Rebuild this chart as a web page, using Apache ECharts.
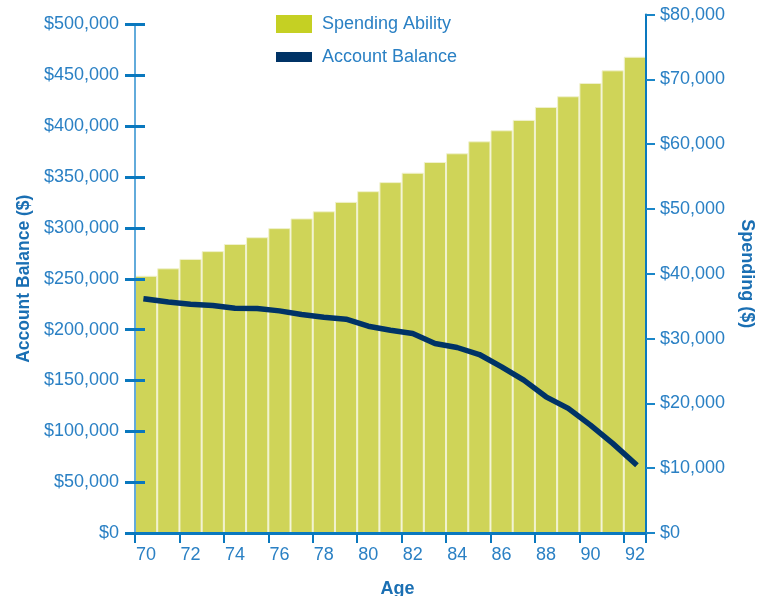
<!DOCTYPE html>
<html>
<head>
<meta charset="utf-8">
<script src="https://cdn.jsdelivr.net/npm/echarts@6/dist/echarts.min.js"></script>
<style>
  html, body { margin: 0; padding: 0; background: #fff; }
  #chart { width: 770px; height: 596px; }
</style>
</head>
<body>
<div id="chart"></div>
<script>
// 年龄（类目）
var ages = ['70','71','72','73','74','75','76','77','78','79','80','81','82','83','84','85','86','87','88','89','90','91','92'];
// 每年可支出金额（右轴）
var spending = [39700, 40850, 42300, 43500, 44600, 45650, 47050, 48550, 49650, 51100, 52750, 54150, 55600, 57250, 58600, 60450, 62150, 63750, 65750, 67400, 69450, 71400, 73500];
// 账户余额（左轴）
var balance = [230000, 227200, 224900, 223700, 221000, 220700, 218400, 214800, 212200, 210200, 203300, 199400, 196200, 186300, 182400, 175500, 163400, 150300, 133900, 122500, 106100, 88100, 68500];

var blueText = '#2a80c4';
var blueDark = '#0a78be';
var fontName = 'Liberation Sans';

function money(v) {
    return '$' + Number(v).toLocaleString('en-US');
}

var chart = echarts.init(document.getElementById('chart'));

var option = {
    animation: false,
    textStyle: { fontFamily: fontName },
    legend: [{
        orient: 'vertical',
        left: 271,
        top: 10,
        itemWidth: 36,
        itemHeight: 18,
        icon: 'rect',
        textStyle: { color: blueText, fontSize: 18, fontFamily: fontName, padding: [0, 0, 0, 5] },
        data: [{ name: 'Spending Ability', itemStyle: { color: '#c5d023', borderWidth: 0 } }]
    }, {
        orient: 'vertical',
        left: 271,
        top: 43,
        itemWidth: 36,
        itemHeight: 10,
        icon: 'rect',
        textStyle: { color: blueText, fontSize: 18, fontFamily: fontName, padding: [0, 0, 0, 5] },
        data: [{ name: 'Account Balance', itemStyle: { color: '#003366' } }]
    }],
    grid: [
        // 左轴（余额）
        { left: 135, right: 124, top: 24.5, bottom: 63, outerBoundsMode: 'none' },
        // 右轴（支出）
        { left: 135, right: 124, top: 14.6, bottom: 63, outerBoundsMode: 'none' }
    ],
    xAxis: [{
        type: 'category',
        gridIndex: 0,
        data: ages,
        name: 'Age',
        nameLocation: 'middle',
        nameGap: 47,
        nameTextStyle: { color: '#1a6fb3', fontSize: 18, fontWeight: 'bold', fontFamily: fontName, padding: [0, 0, 0, 14] },
        axisLine: { lineStyle: { color: blueDark, width: 3 } },
        axisTick: { show: true, length: 10, lineStyle: { color: blueDark, width: 2 } },
        axisLabel: { interval: 1, color: blueText, fontSize: 18, margin: 13, fontFamily: fontName },
        z: 5
    }, {
        type: 'category',
        gridIndex: 1,
        data: ages,
        show: false
    }],
    yAxis: [{
        type: 'value',
        gridIndex: 0,
        position: 'left',
        min: 0,
        max: 500000,
        interval: 50000,
        name: 'Account Balance ($)',
        nameLocation: 'middle',
        nameGap: 102,
        nameTextStyle: { color: '#1a6fb3', fontSize: 17.5, fontWeight: 'bold', fontFamily: fontName },
        axisLine: { show: true, lineStyle: { color: '#62abdb', width: 2 } },
        axisTick: { show: true, length: 10, lineStyle: { color: blueDark, width: 3 } },
        axisLabel: { color: blueText, fontSize: 18, margin: 16, fontFamily: fontName, formatter: money },
        splitLine: { show: false },
        z: 10
    }, {
        type: 'value',
        gridIndex: 1,
        position: 'right',
        min: 0,
        max: 80000,
        interval: 10000,
        name: 'Spending ($)',
        nameLocation: 'middle',
        nameRotate: -90,
        nameGap: 92,
        nameTextStyle: { color: '#1a6fb3', fontSize: 18, fontWeight: 'bold', fontFamily: fontName },
        axisLine: { show: true, lineStyle: { color: blueDark, width: 2 } },
        axisTick: { show: true, length: 9, lineStyle: { color: '#1a86c8', width: 2 } },
        axisLabel: { color: blueText, fontSize: 18, margin: 14, fontFamily: fontName, formatter: money },
        splitLine: { show: false },
        z: 10
    }, {
        // 左轴内侧刻度
        type: 'value',
        gridIndex: 0,
        position: 'left',
        min: 0,
        max: 500000,
        interval: 50000,
        axisLine: { show: false },
        axisTick: { show: true, inside: true, length: 10, lineStyle: { color: blueDark, width: 3 } },
        axisLabel: { show: false },
        splitLine: { show: false },
        z: 10
    }],
    series: [{
        name: 'Spending Ability',
        type: 'bar',
        xAxisIndex: 1,
        yAxisIndex: 1,
        barWidth: '100%',
        itemStyle: { color: '#cfd458', borderColor: '#f1f2cf', borderWidth: 1 },
        data: spending,
        z: 1
    }, {
        name: 'Account Balance',
        type: 'line',
        xAxisIndex: 0,
        yAxisIndex: 0,
        symbol: 'none',
        color: '#003366',
        lineStyle: { color: '#003366', width: 5.5, cap: 'square' },
        data: balance,
        z: 4
    }]
};

chart.setOption(option);
</script>
</body>
</html>
